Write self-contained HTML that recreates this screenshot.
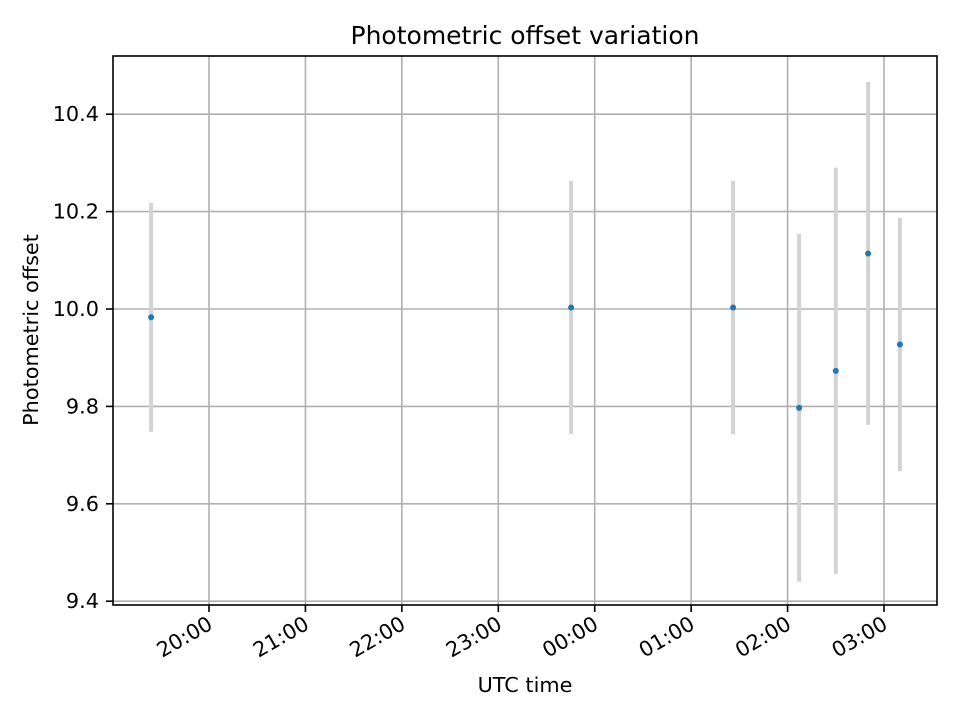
<!DOCTYPE html>
<html><head><meta charset="utf-8"><style>
body{margin:0;background:#fff;}
svg{display:block;font-family:"DejaVu Sans","Liberation Sans",sans-serif;}
</style></head><body>
<svg id="chart" width="960" height="720">
<text x="525" y="44" font-size="25" text-anchor="middle">Photometric offset variation</text>
<g id="grid"></g>
<g id="bars"></g>
<g id="pts"></g>
<rect x="113" y="56" width="824" height="549" fill="none" stroke="#000" stroke-width="1.6"/>
<g id="axes"></g>
<text x="525" y="692" font-size="20.8" text-anchor="middle">UTC time</text>
<text x="38" y="330" font-size="20.8" text-anchor="middle" transform="rotate(-90 38 330)">Photometric offset</text>
</svg>
<script>
// hours relative to 20:00
const times=[-0.60,3.755,5.435,6.12,6.50,6.835,7.165];
const values=[9.983,10.003,10.003,9.797,9.873,10.114,9.927];
const errors=[0.235,0.26,0.26,0.357,0.417,0.352,0.26];
const yTicks=[9.4,9.6,9.8,10.0,10.2,10.4];
const xTicks=[0,1,2,3,4,5,6,7];
const xTickLabels=["20:00","21:00","22:00","23:00","00:00","01:00","02:00","03:00"];
const NS="http://www.w3.org/2000/svg";
const X=h=>209+h*96.43;
const Y=v=>309-(v-10)*487;
function mk(tag,attrs,parent){const e=document.createElementNS(NS,tag);for(const k in attrs)e.setAttribute(k,attrs[k]);document.getElementById(parent).appendChild(e);return e;}
yTicks.forEach((t,i)=>{
 const y=Y(t);
 const g=mk('line',{x1:113,x2:937,y1:y,y2:y,stroke:'#b0b0b0','stroke-width':1.6},'grid');
 
 
 const tk=mk('line',{x1:106,x2:113,y1:y,y2:y,stroke:'#000','stroke-width':1.6},'axes');
 
 
 const tx=mk('text',{x:99,y:y+7,'font-size':20.8,'text-anchor':'end'},'axes');
 tx.textContent=t.toFixed(1);
 
 
});
xTicks.forEach((t,i)=>{
 const x=X(t);
 const g=mk('line',{x1:x,x2:x,y1:56,y2:605,stroke:'#b0b0b0','stroke-width':1.6},'grid');
 
 
 const tk=mk('line',{x1:x,x2:x,y1:605,y2:612,stroke:'#000','stroke-width':1.6},'axes');
 
 
 const tx=mk('text',{x:x+5,y:628,'font-size':20.8,'text-anchor':'end',transform:`rotate(-30 ${x+5} 628)`},'axes');
 tx.textContent=xTickLabels[i];
 
 
});
times.forEach((t,i)=>{
 const x=X(t);
 const b=mk('line',{x1:x,x2:x,y1:Y(values[i]+errors[i]),y2:Y(values[i]-errors[i]),stroke:'#d3d3d3','stroke-width':4},'bars');
 
 
 const c=mk('circle',{cx:x,cy:Y(values[i]),r:3,fill:'#1f77b4'},'pts');
 
 
});
</script>
</body></html>
